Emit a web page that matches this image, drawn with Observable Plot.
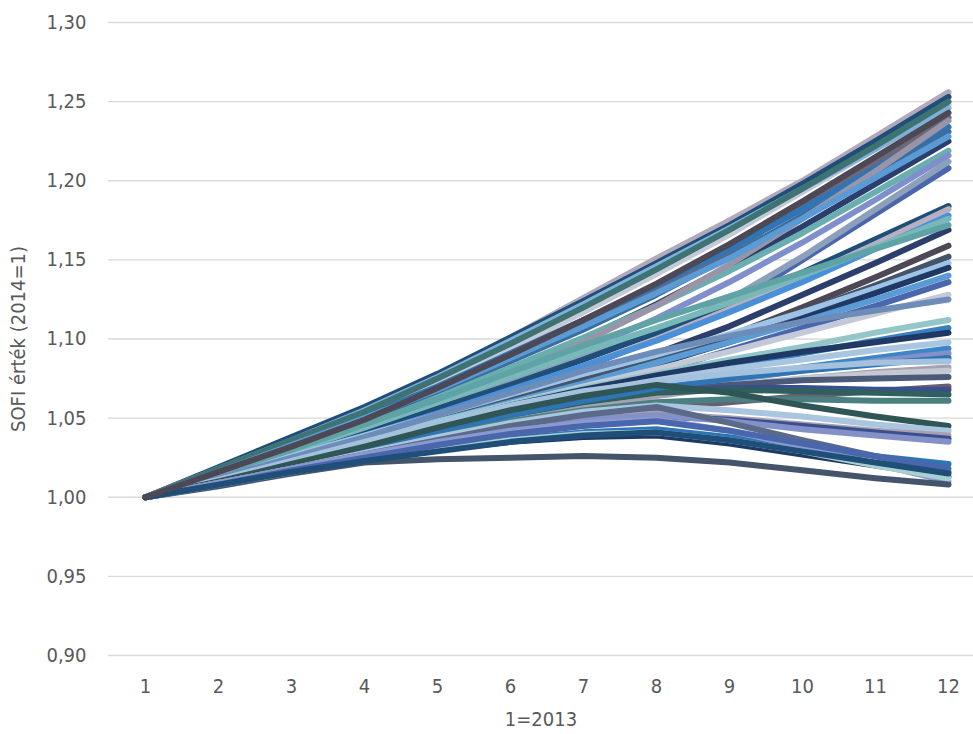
<!DOCTYPE html>
<html>
<head>
<meta charset="utf-8">
<script src="https://cdn.jsdelivr.net/npm/d3@7"></script>
<script src="https://cdn.jsdelivr.net/npm/@observablehq/plot@0.6"></script>
<style>
  html, body { margin: 0; padding: 0; background: #ffffff; }
  #chart svg { display: block; }
</style>
</head>
<body>
<div id="chart"></div>
<script>
// x positions (1 = 2013)
const years = [1, 2, 3, 4, 5, 6, 7, 8, 9, 10, 11, 12];
const yTicks = [0.90, 0.95, 1.00, 1.05, 1.10, 1.15, 1.20, 1.25, 1.30];

// one stroke colour per series
const seriesColors = [
  "#b1a9bb", "#1f4e79", "#c3c9d6", "#7fb0d8", "#6e6679", "#2e75b6", "#3b6e9e",
  "#2c3e6b", "#6aaeb0", "#7f8fcb", "#4a66ac", "#3f7272", "#9a94a8", "#5b9bd5", "#8ca0bc",
  "#1f4e79", "#b7b0c0", "#4a90d9", "#78b8b8", "#2c3e6b", "#4d4856", "#44546a", "#9dc3e6",
  "#203864", "#5b9bd5", "#4a66ac", "#c3c9d6", "#5fa3a6",
  "#93c6c8", "#3a7fc1", "#1f3864", "#a9c5e0", "#3a86c8", "#8490c8", "#a8a0b0", "#c4c8d0",
  "#4a5a78", "#6b5e70", "#3a4f8f", "#2f5f5f", "#4a8080", "#2e75b6", "#6e8cb8", "#a4c2de",
  "#2f5555", "#a9c5e0", "#a8a0b0", "#3a4f8f", "#8490c8",
  "#2e75b6", "#5a6a88", "#1f3864", "#8a9ad0", "#44546a", "#a9d0d0", "#4a66ac", "#1f4e79",
  "#4d4856"
];

// SOFI values per series (index 0 = year 1)
const seriesValues = [
  [1.000,1.018,1.037,1.056,1.077,1.101,1.126,1.151,1.175,1.200,1.228,1.256],
  [1.000,1.019,1.038,1.057,1.078,1.101,1.124,1.148,1.172,1.198,1.225,1.253],
  [1.000,1.017,1.034,1.052,1.072,1.094,1.117,1.141,1.166,1.193,1.220,1.248],
  [1.000,1.018,1.036,1.055,1.076,1.099,1.122,1.146,1.170,1.195,1.220,1.246],
  [1.000,1.015,1.031,1.047,1.066,1.087,1.108,1.131,1.156,1.183,1.211,1.240],
  [1.000,1.017,1.034,1.051,1.070,1.091,1.112,1.134,1.157,1.182,1.208,1.234],
  [1.000,1.016,1.032,1.048,1.066,1.086,1.106,1.128,1.152,1.178,1.204,1.231],
  [1.000,1.014,1.029,1.044,1.061,1.080,1.100,1.122,1.146,1.171,1.198,1.225],
  [1.000,1.015,1.030,1.045,1.063,1.082,1.101,1.121,1.143,1.167,1.193,1.219],
  [1.000,1.014,1.028,1.042,1.058,1.075,1.093,1.113,1.136,1.161,1.188,1.216],
  [1.000,1.013,1.026,1.039,1.053,1.067,1.082,1.100,1.121,1.150,1.179,1.208],
  [1.000,1.018,1.036,1.054,1.075,1.097,1.120,1.144,1.169,1.195,1.222,1.250],
  [1.000,1.013,1.027,1.041,1.058,1.077,1.098,1.121,1.147,1.176,1.206,1.238],
  [1.000,1.016,1.033,1.050,1.068,1.088,1.108,1.129,1.151,1.176,1.202,1.228],
  [1.000,1.014,1.028,1.043,1.059,1.075,1.090,1.104,1.125,1.152,1.182,1.212],
  [1.000,1.013,1.027,1.041,1.056,1.071,1.087,1.104,1.122,1.142,1.163,1.184],
  [1.000,1.012,1.025,1.038,1.052,1.067,1.083,1.100,1.119,1.139,1.160,1.182],
  [1.000,1.013,1.026,1.039,1.053,1.068,1.083,1.099,1.117,1.136,1.157,1.178],
  [1.000,1.014,1.029,1.044,1.060,1.076,1.092,1.107,1.123,1.140,1.158,1.176],
  [1.000,1.012,1.024,1.036,1.049,1.062,1.076,1.091,1.108,1.128,1.148,1.169],
  [1.000,1.011,1.023,1.035,1.047,1.060,1.073,1.087,1.102,1.120,1.139,1.159],
  [1.000,1.012,1.024,1.036,1.049,1.062,1.075,1.088,1.102,1.117,1.134,1.152],
  [1.000,1.013,1.026,1.039,1.052,1.065,1.078,1.090,1.103,1.117,1.132,1.148],
  [1.000,1.011,1.022,1.033,1.045,1.057,1.070,1.084,1.098,1.113,1.129,1.145],
  [1.000,1.012,1.024,1.036,1.048,1.060,1.072,1.085,1.098,1.111,1.125,1.140],
  [1.000,1.010,1.021,1.032,1.043,1.054,1.066,1.079,1.093,1.107,1.121,1.136],
  [1.000,1.011,1.023,1.035,1.047,1.059,1.070,1.081,1.092,1.104,1.116,1.128],
  [1.000,1.015,1.030,1.046,1.062,1.079,1.096,1.112,1.127,1.142,1.157,1.172],
  [1.000,1.012,1.024,1.036,1.048,1.059,1.069,1.078,1.087,1.095,1.104,1.112],
  [1.000,1.011,1.022,1.033,1.044,1.054,1.064,1.073,1.082,1.091,1.099,1.107],
  [1.000,1.011,1.022,1.034,1.046,1.058,1.068,1.077,1.085,1.092,1.098,1.104],
  [1.000,1.012,1.024,1.036,1.047,1.057,1.066,1.074,1.081,1.087,1.093,1.098],
  [1.000,1.010,1.020,1.030,1.040,1.050,1.059,1.067,1.075,1.082,1.088,1.094],
  [1.000,1.011,1.022,1.033,1.043,1.052,1.060,1.067,1.074,1.080,1.086,1.091],
  [1.000,1.010,1.020,1.030,1.040,1.049,1.057,1.064,1.070,1.075,1.079,1.082],
  [1.000,1.011,1.022,1.033,1.043,1.052,1.060,1.066,1.071,1.075,1.078,1.080],
  [1.000,1.010,1.021,1.032,1.043,1.053,1.061,1.067,1.071,1.074,1.075,1.076],
  [1.000,1.009,1.018,1.027,1.036,1.044,1.051,1.056,1.060,1.064,1.067,1.070],
  [1.000,1.011,1.022,1.033,1.044,1.054,1.062,1.067,1.069,1.069,1.068,1.068],
  [1.000,1.010,1.020,1.031,1.042,1.052,1.060,1.066,1.068,1.067,1.066,1.065],
  [1.000,1.009,1.019,1.029,1.039,1.048,1.055,1.060,1.062,1.062,1.061,1.061],
  [1.000,1.010,1.020,1.031,1.042,1.052,1.061,1.069,1.075,1.080,1.084,1.088],
  [1.000,1.012,1.025,1.038,1.052,1.066,1.080,1.092,1.102,1.111,1.118,1.125],
  [1.000,1.011,1.023,1.035,1.047,1.058,1.067,1.073,1.078,1.082,1.085,1.086],
  [1.000,1.010,1.021,1.032,1.044,1.055,1.064,1.071,1.066,1.058,1.051,1.045],
  [1.000,1.009,1.018,1.028,1.038,1.047,1.054,1.058,1.055,1.051,1.046,1.042],
  [1.000,1.009,1.018,1.027,1.036,1.044,1.050,1.053,1.050,1.046,1.042,1.039],
  [1.000,1.008,1.017,1.026,1.034,1.041,1.047,1.051,1.049,1.045,1.041,1.037],
  [1.000,1.009,1.017,1.026,1.035,1.043,1.049,1.052,1.048,1.043,1.039,1.035],
  [1.000,1.008,1.016,1.024,1.031,1.037,1.041,1.043,1.038,1.032,1.026,1.021],
  [1.000,1.009,1.018,1.027,1.036,1.045,1.052,1.057,1.047,1.036,1.026,1.016],
  [1.000,1.008,1.016,1.024,1.030,1.035,1.038,1.039,1.034,1.027,1.020,1.013],
  [1.000,1.009,1.018,1.027,1.035,1.042,1.047,1.049,1.042,1.032,1.021,1.010],
  [1.000,1.007,1.015,1.022,1.024,1.025,1.026,1.025,1.022,1.017,1.012,1.008],
  [1.000,1.008,1.016,1.024,1.031,1.036,1.040,1.041,1.036,1.029,1.020,1.012],
  [1.000,1.008,1.017,1.025,1.033,1.040,1.045,1.048,1.042,1.034,1.026,1.018],
  [1.000,1.008,1.016,1.023,1.029,1.035,1.039,1.041,1.036,1.029,1.022,1.015],
  [1.000,1.016,1.032,1.049,1.069,1.090,1.112,1.135,1.160,1.187,1.215,1.243]
];

// long table built from the arrays above
const rows = [];
seriesValues.forEach((vals, i) => {
  vals.forEach((v, j) => rows.push({series: i, year: years[j], value: v, color: seriesColors[i]}));
});

const fontFamily = "'Liberation Sans Narrow', 'DejaVu Sans Condensed', 'Open Sans', sans-serif";
const fmt = d => d.toFixed(2).replace(".", ",");

const chart = Plot.plot({
  width: 973,
  height: 734,
  marginTop: 22,
  marginBottom: 79,
  marginLeft: 108,
  marginRight: 0,
  style: {fontFamily, fontSize: "20px", color: "#595959", background: "#ffffff"},
  x: {domain: [1, 12], range: [145, 948]},
  y: {domain: [0.90, 1.30], range: [655, 22]},
  color: {type: "identity"},
  marks: [
    Plot.ruleY(yTicks, {stroke: "#d9d9d9", strokeWidth: 1.3}),
    Plot.axisY(yTicks, {
      tickSize: 0, tickPadding: 22, tickFormat: fmt, fill: "#595959", fontSize: 20,
      label: "SOFI érték (2014=1)", labelAnchor: "center", labelArrow: "none", labelOffset: 98
    }),
    Plot.axisX(years, {
      tickSize: 0, tickPadding: 23, tickFormat: d => String(d), fill: "#595959", fontSize: 20,
      label: "1=2013", labelAnchor: "center", labelArrow: "none", labelOffset: 70
    }),
    Plot.line(rows, {
      x: "year", y: "value", z: "series", stroke: "color",
      strokeWidth: 6, strokeLinecap: "round", strokeLinejoin: "round", strokeOpacity: 1
    })
  ]
});

document.getElementById("chart").appendChild(chart);
</script>
</body>
</html>
